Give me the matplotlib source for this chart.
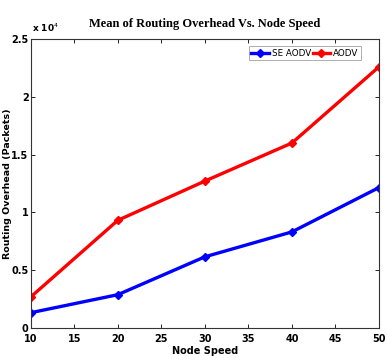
import matplotlib
matplotlib.use("Agg")
import matplotlib.pyplot as plt
from matplotlib.ticker import FuncFormatter

node_speed = [10, 20, 30, 40, 50]
se_aodv = [1300, 2860, 6140, 8300, 12140]
aodv = [2660, 9300, 12700, 16000, 22600]
series_names = ["SE AODV", "AODV"]
xticks = [10, 15, 20, 25, 30, 35, 40, 45, 50]
yticks = [0, 5000, 10000, 15000, 20000, 25000]

fig = plt.figure(figsize=(3.87, 3.62), dpi=100)
ax = fig.add_axes([0.0793, 0.0947, 0.9, 0.7973])

ax.plot(node_speed, se_aodv, color="#0000ff", lw=2.4, marker="D", ms=4, label=series_names[0])
ax.plot(node_speed, aodv, color="#ff0000", lw=2.4, marker="D", ms=4, label=series_names[1])

ax.set_xlim(10, 50)
ax.set_ylim(0, 25000)
ax.set_xticks(xticks)
ax.set_yticks(yticks)
ax.yaxis.set_major_formatter(FuncFormatter(lambda v, p: ("%g" % (v / 1e4))))
ax.tick_params(direction="in", top=True, right=True, length=3, width=0.6)
ax.tick_params(axis="y", pad=1.5)
ax.tick_params(axis="x", pad=4.5)
for lab in ax.get_xticklabels() + ax.get_yticklabels():
    lab.set_fontsize(7)
    lab.set_fontweight("bold")
    lab.set_family("DejaVu Sans Condensed")
for s in ax.spines.values():
    s.set_linewidth(0.8)
    s.set_color("#333333")

ax.set_xlabel("Node Speed", fontsize=7, fontweight="bold", family="DejaVu Sans Condensed", labelpad=1.5)
ax.set_ylabel("Routing Overhead (Packets)", fontsize=6.8, fontweight="bold")
ax.yaxis.set_label_coords(-0.055, 0.5)
fig.text(0.53, 0.935, "Mean of Routing Overhead Vs. Node Speed", ha="center", va="center",
         fontsize=9, fontweight="bold", family="Liberation Serif")
fig.text(0.082, 0.905, r"x 10$^4$", ha="left", va="bottom", fontsize=6.5, fontweight="bold",
         family="DejaVu Sans Condensed")

leg = ax.legend(loc="upper right", ncol=2, fontsize=6.3, frameon=True, fancybox=False,
                handlelength=2.0, handletextpad=0.3, columnspacing=0.2,
                borderpad=0.3, borderaxespad=0.3, bbox_to_anchor=(0.955, 0.985),
                prop={"family": "DejaVu Sans Condensed", "size": 6.3})
leg.get_frame().set_edgecolor("#888888")
leg.get_frame().set_linewidth(0.6)

fig.savefig("out.png", dpi=100)
